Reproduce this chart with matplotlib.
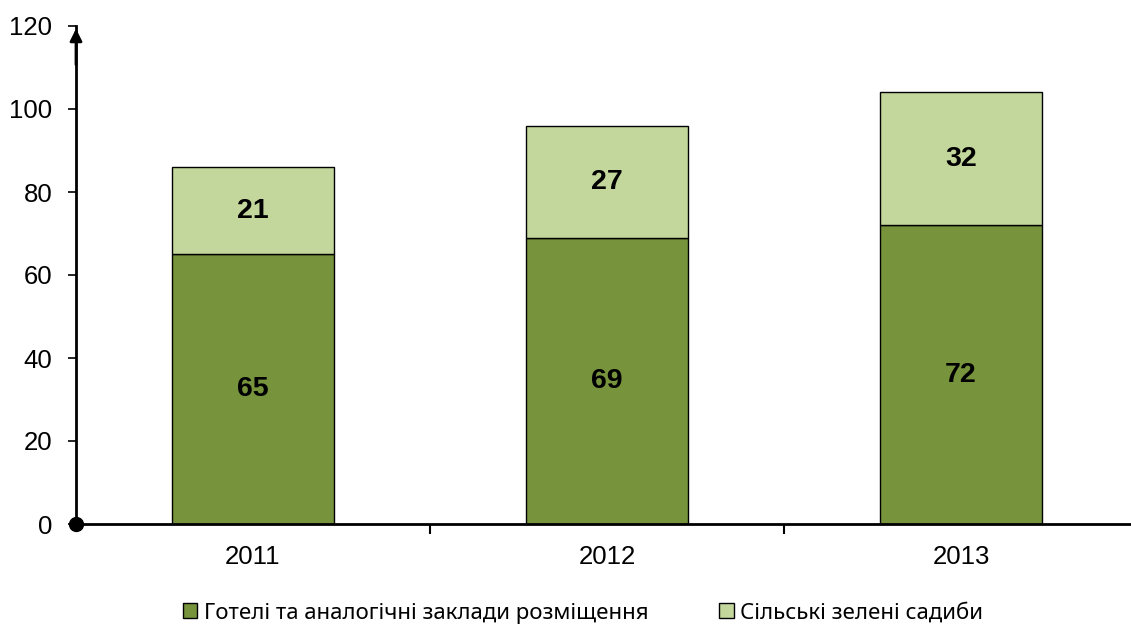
import numpy as np
import matplotlib.pyplot as plt
from matplotlib.patches import Patch

years = ['2011', '2012', '2013']
hotels = [65, 69, 72]
rural = [21, 27, 32]
series_names = ['Готелі та аналогічні заклади розміщення', 'Сільські зелені садиби']
yticks = [0, 20, 40, 60, 80, 100, 120]

dark = '#77933C'
light = '#C3D69B'

plt.rcParams['font.family'] = ['Liberation Sans', 'DejaVu Sans']

fig = plt.figure(figsize=(11.31, 6.24), dpi=100)
W, H = 1131, 624
# axes spans pixel x 76..1138, y 26..524 (from top)
ax = fig.add_axes([76 / W, (H - 524) / H, (1138 - 76) / W, (524 - 26) / H])

x = np.arange(len(years))
width = 0.455
ax.bar(x, hotels, width, color=dark, edgecolor='black', linewidth=1.0, zorder=2)
ax.bar(x, rural, width, bottom=hotels, color=light, edgecolor='black', linewidth=1.0, zorder=2)

for i in range(len(years)):
    ax.text(x[i], hotels[i] / 2, str(hotels[i]), ha='center', va='center',
            fontsize=20.5, fontweight='bold')
    ax.text(x[i], hotels[i] + rural[i] / 2, str(rural[i]), ha='center', va='center',
            fontsize=20.5, fontweight='bold')

ax.set_xlim(-0.5, 2.5)
ax.set_ylim(0, 120)
ax.set_yticks(yticks)
ax.set_yticklabels([str(t) for t in yticks], fontsize=18.5)
ax.tick_params(axis='y', direction='out', length=6, width=1.2, pad=11)

# category labels at centers, tick marks at boundaries
ax.set_xticks(x)
ax.set_xticklabels(years, fontsize=18.5)
ax.tick_params(axis='x', which='major', length=0, pad=15)
ax.set_xticks([0.5, 1.5], minor=True)
ax.tick_params(axis='x', which='minor', direction='out', length=7, width=1.5)

for s in ['top', 'right']:
    ax.spines[s].set_visible(False)
ax.spines['left'].set_linewidth(2)
ax.spines['bottom'].set_linewidth(2)
ax.spines['left'].set_zorder(3)
ax.spines['bottom'].set_zorder(3)

# arrow at the top of y axis and dot at origin
ax.annotate('', xy=(-0.5, 120), xytext=(-0.5, 110),
            arrowprops=dict(arrowstyle='-|>', color='black', lw=2, mutation_scale=18),
            annotation_clip=False, zorder=4)
ax.plot([-0.5], [0], 'o', color='black', markersize=10, clip_on=False, zorder=5)

handles = [Patch(facecolor=dark, edgecolor='black', label=series_names[0]),
           Patch(facecolor=light, edgecolor='black', label=series_names[1])]
fig.legend(handles=handles, loc='center', bbox_to_anchor=(583 / W, (H - 613) / H),
           ncol=2, frameon=False, prop={'family': 'Noto Sans', 'size': 16},
           handlelength=0.64, handleheight=0.64, handletextpad=0.3, columnspacing=3.2)

plt.savefig('out.png', dpi=100)
